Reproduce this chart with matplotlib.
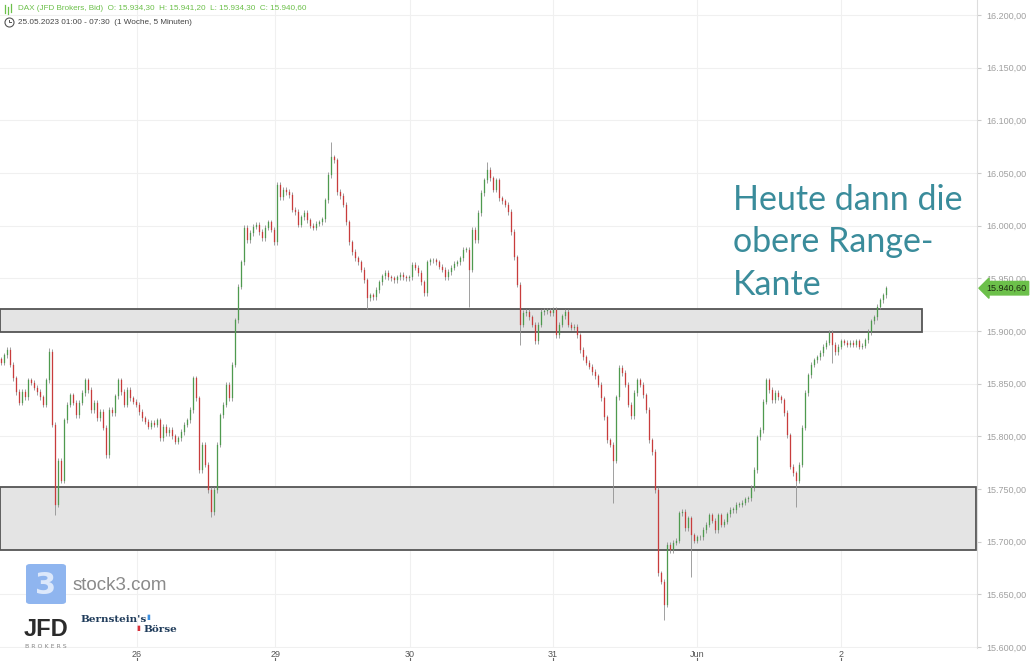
import matplotlib
matplotlib.use("Agg")
import matplotlib.pyplot as plt
from matplotlib.patches import Rectangle, FancyBboxPatch
import numpy as np

# 5-minute DAX candles (close values, roughly every 3rd candle)
closes = [
    15870, 15877, 15882, 15868, 15855, 15842, 15832, 15842, 15837, 15853,
    15851, 15846, 15842, 15837, 15830, 15853, 15880, 15811, 15735, 15777,
    15758, 15815, 15830, 15839, 15832, 15820, 15832, 15841, 15853, 15844,
    15825, 15832, 15817, 15823, 15808, 15782, 15825, 15822, 15838, 15853,
    15842, 15830, 15844, 15836, 15833, 15830, 15823, 15817, 15814, 15809,
    15813, 15811, 15815, 15798, 15809, 15803, 15806, 15800, 15795, 15798,
    15804, 15811, 15815, 15825, 15855, 15836, 15768, 15792, 15773, 15749,
    15728, 15749, 15792, 15820, 15830, 15849, 15836, 15868, 15910, 15942,
    15965, 15998, 15986, 15993, 15999, 16001, 15994, 15988, 15998, 16003,
    15996, 15984, 16039, 16027, 16034, 16032, 16029, 16015, 16013, 16001,
    16008, 16012, 16005, 16000, 15998, 16002, 16003, 16006, 16024, 16048,
    16065, 16062, 16032, 16028, 16020, 16003, 15984, 15975, 15969, 15965,
    15958, 15948, 15931, 15934, 15932, 15939, 15946, 15952, 15955, 15951,
    15950, 15948, 15951, 15953, 15951, 15950, 15951, 15963, 15960, 15955,
    15946, 15936, 15965, 15967, 15967, 15965, 15961, 15958, 15951, 15956,
    15960, 15964, 15965, 15969, 15977, 15977, 15958, 15996, 15986, 16012,
    16031, 16043, 16053, 16045, 16034, 16043, 16026, 16023, 16020, 16013,
    15994, 15970, 15944, 15906, 15917, 15918, 15913, 15906, 15890, 15906,
    15918, 15919, 15919, 15917, 15920, 15896, 15906, 15914, 15918, 15906,
    15903, 15904, 15896, 15882, 15875, 15870, 15866, 15861, 15857, 15849,
    15836, 15818, 15796, 15792, 15777, 15837, 15865, 15860, 15849, 15830,
    15819, 15841, 15853, 15849, 15839, 15825, 15796, 15785, 15749, 15670,
    15662, 15640, 15697, 15692, 15699, 15701, 15727, 15728, 15713, 15722,
    15706, 15701, 15704, 15704, 15711, 15716, 15725, 15720, 15711, 15725,
    15716, 15719, 15726, 15730, 15730, 15735, 15735, 15737, 15740, 15741,
    15751, 15768, 15799, 15806, 15833, 15853, 15844, 15834, 15841, 15837,
    15834, 15822, 15801, 15771, 15765, 15758, 15773, 15808, 15841, 15858,
    15868, 15872, 15875, 15879, 15885, 15889, 15898, 15887, 15880, 15885,
    15890, 15889, 15887, 15889, 15887, 15890, 15885, 15886, 15891, 15899,
    15909, 15913, 15923, 15929, 15934, 15940.6,
]
# long wicks (candle index, extreme price)
spike_idx = [16, 18, 70, 110, 122, 156, 162, 173, 204, 206, 221, 230, 265, 277]
spike_price = [15884, 15725, 15723, 16079, 15921, 15923, 16060, 15887, 15737, 15868,
               15626, 15666, 15733, 15870]

day_labels = ["26", "29", "30", "31", "Jun", "2"]
day_pos = [45.2, 91.2, 136.2, 183.8, 231.8, 279.8]

upper_range = (15899, 15921)
lower_range = (15692, 15752)
last_price = 15940.6
yticks = np.arange(15600, 16201, 50)

W, H = 1030, 661
fig = plt.figure(figsize=(W / 100, H / 100), dpi=100)
ax = fig.add_axes([0, 13 / H, 977 / W, 1 - 13 / H])

n = len(closes)
x = np.arange(n)
c = np.array(closes, dtype=float)
o = np.concatenate([[c[0] + 3], c[:-1]])
hi = np.maximum(o, c) + 2.5
lo = np.minimum(o, c) - 2.5
for i, p in zip(spike_idx, spike_price):
    if p > hi[i]:
        hi[i] = p
    else:
        lo[i] = p

up = c >= o
cols = np.where(up, "#4e9a4e", "#c83c3c")
ax.vlines(x, lo, hi, colors="#909090", linewidth=0.6, zorder=3)
ax.bar(x, np.maximum(np.abs(c - o), 0.8), bottom=np.minimum(o, c), width=0.55,
       color=cols, edgecolor=cols, linewidth=0.2, zorder=4)

# range boxes
ax.add_patch(Rectangle((-0.5, upper_range[0]), 307.3, upper_range[1] - upper_range[0],
                       facecolor="#e4e4e4", edgecolor="#555555", linewidth=1.3, zorder=2))
ax.add_patch(Rectangle((-0.5, lower_range[0]), 325.4, lower_range[1] - lower_range[0],
                       facecolor="#e4e4e4", edgecolor="#555555", linewidth=1.3, zorder=2))

ax.set_xlim(-0.5, 325.2)
ax.set_ylim(15599.0, 16214.2)

for yv in yticks:
    ax.axhline(yv, color="#f0f0f0", linewidth=0.8, zorder=0)
for xv in day_pos:
    ax.axvline(xv, color="#f0f0f0", linewidth=0.8, zorder=0)

ax.yaxis.tick_right()
ax.set_yticks(yticks)
ax.set_yticklabels([f"{v:,.2f}".replace(",", "X").replace(".", ",").replace("X", ".") for v in yticks],
                   family="Liberation Sans")
ax.tick_params(axis="y", colors="#cccccc", labelcolor="#a0a0a0", labelsize=6.5,
               length=3, width=0.8, pad=4)
ax.set_xticks(day_pos)
ax.set_xticklabels(day_labels, family="Liberation Sans")
ax.tick_params(axis="x", length=0, labelsize=6.5, labelcolor="#555555", pad=1.5)
for xv in day_pos:
    ax.plot([xv, xv], [-0.016, -0.021], color="#666666", linewidth=0.8,
            transform=ax.get_xaxis_transform(), clip_on=False)
for s in ["top", "left", "bottom"]:
    ax.spines[s].set_visible(False)
ax.spines["right"].set_color("#dddddd")

# last price tag
ax.text(1.0095, last_price, "15.940,60", transform=ax.get_yaxis_transform(),
        ha="left", va="center", fontsize=6.5, color="#1c2a10", zorder=10,
        family="Liberation Sans",
        bbox=dict(boxstyle="larrow,pad=0.25", fc="#6cc04a", ec="#6cc04a"), clip_on=False)

# annotation
ax.text(733 / 977, 1 - 184 / 648, "Heute dann die\nobere Range-\nKante",
        transform=ax.transAxes, ha="left", va="top", fontsize=24.5, family="Lato",
        color="#3a8c9b", linespacing=1.4, zorder=10)

def fx(px):
    return px / W

def fy(py):
    return 1 - py / H

# header
fig.text(fx(18), fy(9), "DAX (JFD Brokers, Bid)  O: 15.934,30  H: 15.941,20  L: 15.934,30  C: 15.940,60",
         fontsize=5.9, color="#6cc04a", va="center", family="Liberation Sans")
fig.text(fx(18), fy(22), "25.05.2023 01:00 - 07:30  (1 Woche, 5 Minuten)",
         fontsize=5.9, color="#444444", va="center", family="Liberation Sans")
# small candle icon and clock icon
for dx, y0, y1 in [(5, 5, 13), (8, 7, 14), (11, 4, 12)]:
    fig.add_artist(plt.Line2D([fx(dx), fx(dx)], [fy(y1), fy(y0)], color="#6cc04a", lw=0.9))
fig.add_artist(plt.Line2D([fx(9)], [fy(22)], marker="o", markersize=6.5, mfc="none",
                          mec="#555555", mew=0.8))
fig.add_artist(plt.Line2D([fx(9), fx(9), fx(11)], [fy(19.5), fy(22), fy(22)], color="#555555", lw=0.7))

# logos
fig.add_artist(FancyBboxPatch((fx(26), fy(604)), 40 / W, 40 / H,
                              boxstyle="round,pad=0,rounding_size=0.004",
                              transform=fig.transFigure, fc="#8fb5ef", ec="none"))
fig.text(fx(46), fy(585), "3", fontsize=22, color="#dce8fb", weight="bold",
         ha="center", va="center")
fig.text(fx(73), fy(585), "stock3.com", fontsize=13.5, color="#8a8a8a", va="center",
         family="Liberation Sans")
fig.text(fx(46), fy(629), "JFD", fontsize=17, color="#2b2b2b", weight="bold",
         ha="center", va="center", family="Liberation Sans")
fig.text(fx(46), fy(646), "B R O K E R S", fontsize=4.5, color="#888888",
         ha="center", va="center")
fig.text(fx(80), fy(620), "Bernstein's", fontsize=7.5, color="#1f3b5a", weight="bold",
         va="center", family="DejaVu Serif")
fig.text(fx(143), fy(630), "Börse", fontsize=7.5, color="#1f3b5a", weight="bold",
         va="center", family="DejaVu Serif")
fig.text(fx(136), fy(628), "▮", fontsize=5, color="#d9303a", va="center")
fig.text(fx(146), fy(617), "▮", fontsize=5, color="#3a8ee0", va="center")

fig.savefig("out.png", dpi=100)
